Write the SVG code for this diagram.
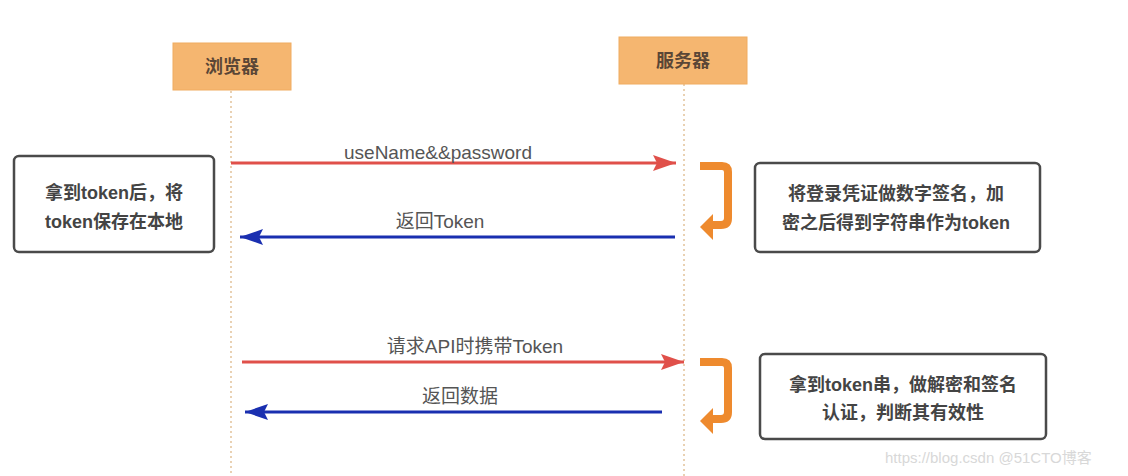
<svg xmlns="http://www.w3.org/2000/svg" width="1128" height="476" viewBox="0 0 1128 476">
<style>
.actor{fill:#F5B670;stroke:#F0AC60;stroke-width:1}
.actorText{font-family:"Liberation Sans","Noto Sans CJK SC",sans-serif;font-size:18px;font-weight:bold;fill:#5A4636;text-anchor:middle}
.life{stroke:#E2C29A;stroke-width:1.5;stroke-dasharray:2 3;fill:none}
.note{fill:#fff;stroke:#4A4A4A;stroke-width:2.5}
.noteText{font-family:"Liberation Sans","Noto Sans CJK SC",sans-serif;font-size:18px;font-weight:bold;fill:#444;text-anchor:middle}
.lbl{font-family:"Liberation Sans","Noto Sans CJK SC",sans-serif;font-size:19px;fill:#555;text-anchor:middle}
.req{stroke:#E0504A;stroke-width:3;fill:none}
.resp{stroke:#1A2FB0;stroke-width:3;fill:none}
.hook{stroke:#EE8A2E;stroke-width:8;fill:none;stroke-linejoin:round}
.hookHead{fill:#EE8A2E}
.wm{font-family:"Liberation Sans","Noto Sans CJK SC",sans-serif;font-size:15px;fill:#D8D8D8}
</style>
<defs>
<marker id="mRed" viewBox="0 0 23 16" refX="23" refY="8" markerWidth="23" markerHeight="16" markerUnits="userSpaceOnUse" orient="auto"><path d="M0,0 L23,8 L0,16 L4,8 z" fill="#E0504A"/></marker>
<marker id="mBlue" viewBox="0 0 23 16" refX="23" refY="8" markerWidth="23" markerHeight="16" markerUnits="userSpaceOnUse" orient="auto"><path d="M0,0 L23,8 L0,16 L4,8 z" fill="#1A2FB0"/></marker>
</defs>
<rect width="1128" height="476" fill="#fff"/>
<g id="lifelines">
<line class="life" x1="231" y1="91" x2="231" y2="476"/>
<line class="life" x1="684" y1="84" x2="684" y2="476"/>
</g>
<g id="browser">
<rect class="actor" x="173" y="43" width="118" height="47"/>
<text class="actorText" x="232" y="73">浏览器</text>
</g>
<g id="server">
<rect class="actor" x="619" y="37" width="128" height="47"/>
<text class="actorText" x="683" y="67">服务器</text>
</g>
<g id="note-client">
<rect class="note" x="14" y="156" width="200" height="96" rx="5"/>
<text class="noteText" x="114" y="199">拿到token后，将</text>
<text class="noteText" x="114" y="228">token保存在本地</text>
</g>
<g id="note-sign">
<rect class="note" x="755" y="163" width="285" height="89" rx="5"/>
<text class="noteText" x="896" y="200">将登录凭证做数字签名，加</text>
<text class="noteText" x="896" y="229">密之后得到字符串作为token</text>
</g>
<g id="note-verify">
<rect class="note" x="760" y="354" width="286" height="85" rx="5"/>
<text class="noteText" x="903" y="391">拿到token串，做解密和签名</text>
<text class="noteText" x="903" y="419">认证，判断其有效性</text>
</g>
<g id="connectors">
<line class="req" x1="231" y1="163" x2="676" y2="163" marker-end="url(#mRed)"/>
<text class="lbl" x="438" y="159">useName&amp;&amp;password</text>
<line class="resp" x1="675" y1="237" x2="240" y2="237" marker-end="url(#mBlue)"/>
<text class="lbl" x="440" y="228">返回Token</text>
<line class="req" x1="242" y1="362" x2="684" y2="362" marker-end="url(#mRed)"/>
<text class="lbl" x="475" y="353">请求API时携带Token</text>
<line class="resp" x1="662" y1="412" x2="245" y2="412" marker-end="url(#mBlue)"/>
<text class="lbl" x="460" y="403">返回数据</text>
<path class="hook" d="M700,166 H722 Q728,166 728,172 V218 Q728,225 721,225 H712"/>
<path class="hookHead" d="M700,227 L713,214 L713,240 z"/>
<path class="hook" d="M700,362 H722 Q728,362 728,368 V412 Q728,419 721,419 H712"/>
<path class="hookHead" d="M700,421 L713,408 L713,434 z"/>
</g>
<text class="wm" x="885" y="463">https://blog.csdn @51CTO博客</text>
</svg>
